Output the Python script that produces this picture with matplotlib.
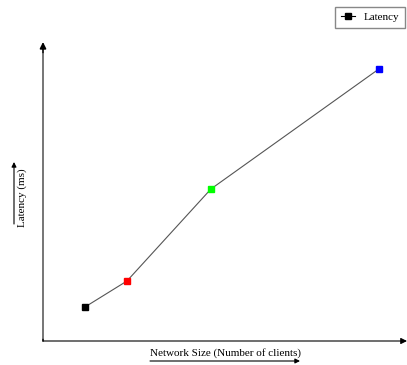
import matplotlib.pyplot as plt

# data
network_size = [1, 2, 4, 8]
latency = [34, 60, 152, 272]
point_colors = ['black', 'red', '#00ff00', 'blue']

W, H = 407, 365
fig = plt.figure(figsize=(W / 100, H / 100), dpi=100)
ax = fig.add_axes([43 / W, 24 / H, 364 / W, 299 / H])
ax.set_xlim(0, 8.67)
ax.set_ylim(0, 299)
for s in ax.spines.values():
    s.set_visible(False)
ax.set_xticks([])
ax.set_yticks([])

fnt = {'family': 'Liberation Serif', 'size': 8}

ax.plot(network_size, latency, color='#555555', lw=0.8, zorder=2)
for xv, yv, c in zip(network_size, latency, point_colors):
    ax.plot(xv, yv, 's', color=c, ms=4.5, zorder=3)
# legend proxy
ax.plot([], [], '-s', color='black', ms=4, lw=0.8, label='Latency')
fig.legend(loc='upper right', bbox_to_anchor=(1.0, 1.0 - 5 / H), prop=fnt,
           fancybox=False, edgecolor='#888888', handlelength=1.3, borderpad=0.5,
           borderaxespad=0.15, framealpha=1)

# axis arrows
ax.annotate('', xy=(0, 1.0), xytext=(0, 0), xycoords='axes fraction',
            arrowprops=dict(arrowstyle='-|>', fc='black', ec='black', lw=1.2,
                            mutation_scale=9, shrinkA=0, shrinkB=0),
            annotation_clip=False)
ax.annotate('', xy=(0, 0.0), xytext=(0, 0.97), xycoords='axes fraction',
            arrowprops=dict(arrowstyle='-', color='#888888', lw=1.2), annotation_clip=False)
ax.annotate('', xy=(1.0, 0), xytext=(0, 0), xycoords='axes fraction',
            arrowprops=dict(arrowstyle='-|>', color='black', lw=0.8, mutation_scale=9,
                            shrinkA=0, shrinkB=0), annotation_clip=False)

# axis labels with their little arrows
fig.text(150 / W, 1 - 353 / H, 'Network Size (Number of clients)', ha='left', va='center',
         fontdict=fnt)
ax.annotate('', xy=(300 / W, 1 - 361 / H), xytext=(150 / W, 1 - 361 / H),
            xycoords='figure fraction',
            arrowprops=dict(arrowstyle='-|>', color='black', lw=0.8, mutation_scale=7,
                            shrinkA=0, shrinkB=0), annotation_clip=False)
fig.text(22 / W, 1 - 198 / H, 'Latency (ms)', ha='center', va='center', rotation=90,
         fontdict=fnt)
ax.annotate('', xy=(14 / W, 1 - 162 / H), xytext=(14 / W, 1 - 224 / H),
            xycoords='figure fraction',
            arrowprops=dict(arrowstyle='-|>', color='black', lw=0.8, mutation_scale=7,
                            shrinkA=0, shrinkB=0), annotation_clip=False)

fig.savefig('out.png', dpi=100)
